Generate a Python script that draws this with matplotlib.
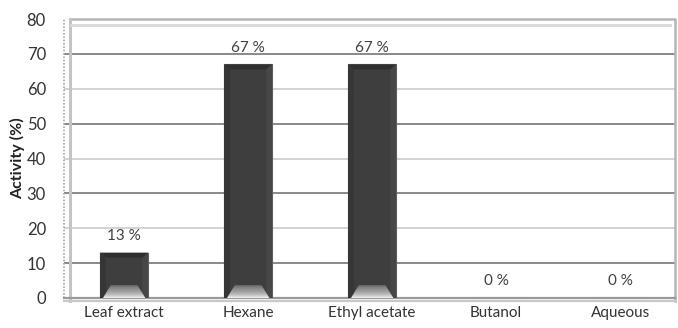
import matplotlib
matplotlib.use("Agg")
import matplotlib.pyplot as plt
import numpy as np
from matplotlib.patches import Polygon
from matplotlib.lines import Line2D

categories = ["Leaf extract", "Hexane", "Ethyl acetate", "Butanol", "Aqueous"]
activity = [13, 67, 67, 0, 0]
yticks = [0, 10, 20, 30, 40, 50, 60, 70, 80]

plt.rcParams["font.family"] = ["Lato", "DejaVu Sans"]

W, H = 678, 328
fig = plt.figure(figsize=(W / 100, H / 100), dpi=100)
x0, x1, y0, y1 = 64, 676, 298, 19
ax = fig.add_axes([x0 / W, 1 - y0 / H, (x1 - x0) / W, (y0 - y1) / H])

x = np.arange(len(categories))
bar_w = 0.39
ax.set_xlim(-0.485, 4.45)
ax.set_ylim(0, 80)

# gridlines: alternating dark and light
for v in yticks[1:-1]:
    col = "#6a6a6a" if (v // 10) % 2 == 1 else "#c8c8c8"
    ax.axhline(v, color=col, lw=1.1, zorder=1)

# chart frame (wall + floor)
tf = ax.transAxes
ax.add_line(Line2D([0, 0], [0, 1.0], transform=tf, color="#a8a8a8", lw=1.2,
                   ls=(0, (1, 1)), clip_on=False, zorder=2))
ax.add_line(Line2D([0.01, 0.998, 0.998], [1.0, 1.0, -0.01], transform=tf,
                   color="#b5b5b5", lw=1.8, clip_on=False, zorder=2))
ax.add_line(Line2D([0.01, 0.01], [-0.01, 1.0], transform=tf, color="#c4c4c4",
                   lw=2.2, clip_on=False, zorder=2))
ax.add_line(Line2D([0.012, 0.99], [0.978, 0.978], transform=tf, color="#d8d8d8",
                   lw=2.0, clip_on=False, zorder=2))
ax.add_line(Line2D([0.0, 0.998], [0.0, 0.0], transform=tf, color="#9a9a9a",
                   lw=1.6, clip_on=False, zorder=2))
ax.add_line(Line2D([0.0, 0.998], [-0.012, -0.012], transform=tf, color="#c8c8c8",
                   lw=1.6, clip_on=False, zorder=2))

bars = ax.bar(x, activity, width=bar_w, color="#3e3e3e", edgecolor="#6a6a6a",
              linewidth=0.8, zorder=3)

# bevel shading on each bar
px_x = (x1 - x0) / (ax.get_xlim()[1] - ax.get_xlim()[0])
px_y = (y0 - y1) / 80.0
for b in bars:
    h = b.get_height()
    if h <= 0:
        continue
    l, r = b.get_x(), b.get_x() + b.get_width()
    ix = 6 / px_x
    iy = 5 / px_y
    ax.add_patch(Polygon([[l, h], [r, h], [r - ix, h - iy], [l + ix, h - iy]],
                         closed=True, facecolor="#2f2f2f", edgecolor="none", zorder=4))
    ax.add_patch(Polygon([[l, h], [l + ix, h - iy], [l + ix, 0], [l, 0]],
                         closed=True, facecolor="#363636", edgecolor="none", zorder=4))
    ax.add_patch(Polygon([[r, h], [r - ix, h - iy], [r - ix, 0], [r, 0]],
                         closed=True, facecolor="#474747", edgecolor="none", zorder=4))
    # bright floor facet with gradient
    th = 13 / px_y
    n = 14
    for k in range(n):
        f0, f1 = k / n, (k + 1) / n
        ya, yb = th * (1 - f0), th * (1 - f1)
        ina = (11 - 8 * f0) / px_x
        inb = (11 - 8 * f1) / px_x
        c = 0.27 + 0.70 * (f1 ** 0.6)
        ax.add_patch(Polygon([[l + ina, ya], [r - ina, ya], [r - inb, yb], [l + inb, yb]],
                             closed=True, facecolor=(c, c, c), edgecolor="none", zorder=5))

for xi, v in zip(x, activity):
    ax.annotate(f"{v} %", (xi, v), xytext=(0, 7), textcoords="offset points",
                ha="center", va="bottom", fontsize=11, color="#404040", zorder=6)

ax.set_yticks(yticks)
ax.set_xticks(x)
ax.set_xticklabels(categories)
ax.tick_params(axis="both", length=0, labelsize=11, colors="#333333")
ax.tick_params(axis="y", pad=13, labelsize=12)
ax.tick_params(axis="x", pad=6)
for s in ax.spines.values():
    s.set_visible(False)
ax.set_ylabel("Activity (%)", fontsize=11.5, fontweight="bold", color="#222222", labelpad=1)

fig.savefig("out.png", dpi=100)
